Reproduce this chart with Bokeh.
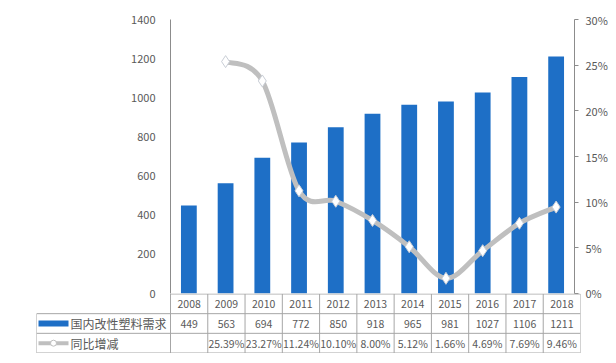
from bokeh.plotting import figure
from bokeh.layouts import column
from bokeh.models import Range1d, LinearAxis, SingleIntervalTicker, PrintfTickFormatter, ColumnDataSource
from bokeh.core.properties import value
from bokeh.embed import file_html
from bokeh.resources import INLINE

years = ["2008", "2009", "2010", "2011", "2012", "2013", "2014", "2015", "2016", "2017", "2018"]
demand = [449, 563, 694, 772, 850, 918, 965, 981, 1027, 1106, 1211]
growth = [None, 25.39, 23.27, 11.24, 10.10, 8.00, 5.12, 1.66, 4.69, 7.69, 9.46]
growth_labels = ["", "25.39%", "23.27%", "11.24%", "10.10%", "8.00%", "5.12%", "1.66%", "4.69%", "7.69%", "9.46%"]
bar_name = "国内改性塑料需求"
line_name = "同比增减"
left_ticks_max = 1400
right_ticks_max = 30

FONT = "Noto Sans CJK SC"
TXT = "#595959"
BLUE = "#1E6FC6"
GRAY = "#BFBFBF"
BORDER = "#A6A6A6"

n = len(years)
xs = list(range(n))

# ---------------- main chart ----------------
p = figure(width=610, height=300, output_backend="svg", toolbar_location=None,
           x_range=Range1d(-0.5, n - 0.5), y_range=Range1d(0, left_ticks_max),
           x_axis_location=None, min_border_left=170, min_border_right=30,
           min_border_top=19, min_border_bottom=7, frame_align=False)
p.outline_line_color = None
p.xgrid.visible = False
p.ygrid.visible = False

ya = p.yaxis[0]
ya.ticker = SingleIntervalTicker(interval=200)
ya.axis_line_color = "#8C8C8C"
ya.major_tick_line_color = None
ya.major_tick_out = 0
ya.minor_tick_line_color = None
ya.major_label_text_font = FONT
ya.major_label_text_font_size = "11px"
ya.major_label_text_color = TXT
ya.major_label_standoff = 11

p.extra_y_ranges = {"pct": Range1d(0, right_ticks_max)}
ra = LinearAxis(y_range_name="pct", ticker=SingleIntervalTicker(interval=5),
                formatter=PrintfTickFormatter(format="%d%%"))
ra.axis_line_color = "#8C8C8C"
ra.major_tick_line_color = "#8C8C8C"
ra.major_tick_in = 0
ra.major_tick_out = 4
ra.minor_tick_line_color = None
ra.major_label_text_font = FONT
ra.major_label_text_font_size = "11px"
ra.major_label_text_color = TXT
ra.major_label_standoff = 7
p.add_layout(ra, "right")

p.vbar(x=xs, top=demand, width=0.43, fill_color=BLUE, line_color=None)

# smoothed line (Catmull-Rom to Bezier, like a spreadsheet "smoothed line")
gx = [x for x, g in zip(xs, growth) if g is not None]
gy = [g for g in growth if g is not None]
m = len(gx)
seg = dict(x0=[], y0=[], x1=[], y1=[], cx0=[], cy0=[], cx1=[], cy1=[])
for i in range(m - 1):
    p0 = (gx[max(i - 1, 0)], gy[max(i - 1, 0)])
    p1 = (gx[i], gy[i])
    p2 = (gx[i + 1], gy[i + 1])
    p3 = (gx[min(i + 2, m - 1)], gy[min(i + 2, m - 1)])
    seg["x0"].append(p1[0]); seg["y0"].append(p1[1])
    seg["x1"].append(p2[0]); seg["y1"].append(p2[1])
    seg["cx0"].append(p1[0] + (p2[0] - p0[0]) / 6)
    seg["cy0"].append(p1[1] + (p2[1] - p0[1]) / 6)
    seg["cx1"].append(p2[0] - (p3[0] - p1[0]) / 6)
    seg["cy1"].append(p2[1] - (p3[1] - p1[1]) / 6)
p.bezier(source=ColumnDataSource(seg), x0="x0", y0="y0", x1="x1", y1="y1",
         cx0="cx0", cy0="cy0", cx1="cx1", cy1="cy1",
         line_color=GRAY, line_width=5, line_cap="round", y_range_name="pct")
p.scatter(gx, gy, marker="diamond", size=12, fill_color="white",
          line_color="#C9CED6", line_width=1, y_range_name="pct")

# ---------------- data table ----------------
colw = 410 / n                      # px per category
left_px = 170 - 36                  # px of the legend column
xl = -0.5 - left_px / colw
t = figure(width=610, height=60, output_backend="svg", toolbar_location=None,
           x_range=Range1d(xl, n - 0.5), y_range=Range1d(-0.025, 3.025),
           x_axis_location=None, y_axis_location=None,
           min_border_left=36, min_border_right=30, min_border_top=0, min_border_bottom=0,
           frame_align=False, styles={"transform": "translateY(-7px)"})
t.outline_line_color = None
t.xgrid.visible = False
t.ygrid.visible = False
t.background_fill_alpha = 0
t.border_fill_alpha = 0

t.segment(x0=[-0.5, xl, xl, xl], y0=[3, 2, 1, 0], x1=[n - 0.5] * 4, y1=[3, 2, 1, 0],
          line_color=BORDER, line_width=1)
vx = [k - 0.5 for k in range(n + 1)]
t.segment(x0=vx, y0=[0] * len(vx), x1=vx, y1=[3] * len(vx), line_color=BORDER, line_width=1)
t.segment(x0=[xl], y0=[0], x1=[xl], y1=[2], line_color=BORDER, line_width=1)

common = dict(text_font=value(FONT), text_font_size="10.5px", text_color=TXT,
              text_align="center", text_baseline="middle")
t.text(x=xs, y=[2.5] * n, text=years, **common)
t.text(x=xs, y=[1.5] * n, text=[str(v) for v in demand], **common)
t.text(x=xs, y=[0.5] * n, text=growth_labels, **common)

# legend keys
sx0 = xl + 2 / colw
sx1 = xl + 32 / colw
t.quad(left=[sx0], right=[sx1], bottom=[1.35], top=[1.65], fill_color=BLUE, line_color=None)
t.segment(x0=[sx0], y0=[0.5], x1=[sx1], y1=[0.5], line_color=GRAY, line_width=4)
t.scatter(x=[(sx0 + sx1) / 2], y=[0.5], marker="circle", size=6, fill_color="white",
          line_color=GRAY, line_width=1)
t.text(x=[xl + 34 / colw] * 2, y=[1.5, 0.5], text=[bar_name, line_name],
       text_font=value(FONT), text_font_size="12px", text_color=TXT,
       text_align="left", text_baseline="middle")

layout = column(p, t, spacing=0)
open("out.html", "w").write(file_html(layout, INLINE))
